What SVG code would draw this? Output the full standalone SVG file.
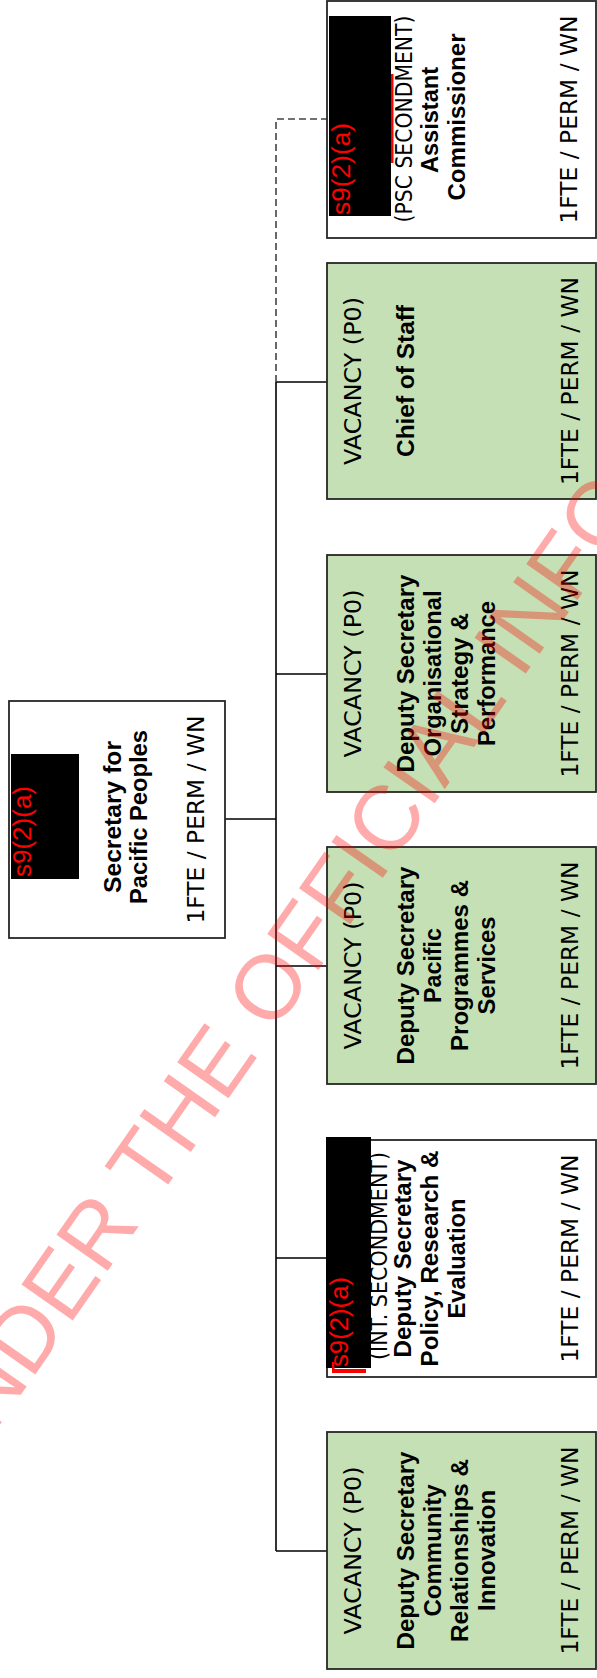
<svg xmlns="http://www.w3.org/2000/svg" width="597" height="1678" viewBox="0 0 597 1678">
<style>
.box{stroke:#262626;stroke-width:1.8}
.g{fill:#c5e0b4}
.w{fill:#ffffff}
.t{font-family:"DejaVu Sans",Verdana,sans-serif;font-size:23px;fill:#000}
.b{font-family:"Liberation Sans",Arial,sans-serif;font-weight:bold;font-size:24px;fill:#000}
.r{font-family:"Liberation Sans",Arial,sans-serif;font-size:25px;fill:#ff0000}
.m{text-anchor:middle}
.ln{stroke:#000;stroke-width:1.6;fill:none}
.dash{stroke:#444;stroke-width:1.6;fill:none;stroke-dasharray:7 4}
.wm{font-family:"Liberation Sans",Arial,sans-serif;font-size:91px;fill:#ff0000;fill-opacity:0.33}
</style>
<rect width="597" height="1678" fill="#ffffff"/>
<g id="connectors">
<path class="ln" d="M225,819 H276"/>
<path class="ln" d="M276,382 V1551"/>
<path class="ln" d="M276,382 H327"/>
<path class="ln" d="M276,674 H327"/>
<path class="ln" d="M276,966 H327"/>
<path class="ln" d="M276,1258 H327"/>
<path class="ln" d="M276,1551 H327"/>
<path class="dash" d="M276,382 V119 H327"/>
</g>
<g id="secretary">
<rect class="box w" x="9" y="701" width="216" height="237"/>
<rect x="11" y="754" width="68" height="125" fill="#000"/>
<text class="r" transform="translate(31,877) rotate(-90)" textLength="91" lengthAdjust="spacingAndGlyphs">s9(2)(a)</text>
<text class="b m" transform="translate(121,817) rotate(-90)" textLength="152" lengthAdjust="spacingAndGlyphs">Secretary for</text>
<text class="b m" transform="translate(147,817) rotate(-90)" textLength="174" lengthAdjust="spacingAndGlyphs">Pacific Peoples</text>
<text class="t m" transform="translate(204,819.5) rotate(-90)" textLength="208" lengthAdjust="spacingAndGlyphs">1FTE / PERM / WN</text>
</g>
<g id="assistant-commissioner">
<rect class="box w" x="327" y="1" width="269" height="237"/>
<rect x="329" y="16" width="62" height="200" fill="#000"/>
<rect x="391" y="74" width="2.5" height="89" fill="#ff0000"/>
<text class="r" transform="translate(350,215) rotate(-90)" textLength="92" lengthAdjust="spacingAndGlyphs">s9(2)(a)</text>
<text class="t m" transform="translate(412,119) rotate(-90)" textLength="207" lengthAdjust="spacingAndGlyphs">(PSC SECONDMENT)</text>
<text class="b m" transform="translate(438,120) rotate(-90)" textLength="106" lengthAdjust="spacingAndGlyphs">Assistant</text>
<text class="b m" transform="translate(465,117) rotate(-90)" textLength="167" lengthAdjust="spacingAndGlyphs">Commissioner</text>
<text class="t m" transform="translate(577,119.5) rotate(-90)" textLength="208" lengthAdjust="spacingAndGlyphs">1FTE / PERM / WN</text>
</g>
<g id="chief-of-staff">
<rect class="box g" x="327" y="263" width="269" height="236"/>
<text class="t m" transform="translate(361,381) rotate(-90)" textLength="168" lengthAdjust="spacingAndGlyphs">VACANCY (P0)</text>
<text class="b m" transform="translate(414,381) rotate(-90)" textLength="152" lengthAdjust="spacingAndGlyphs">Chief of Staff</text>
<text class="t m" transform="translate(578,381) rotate(-90)" textLength="208" lengthAdjust="spacingAndGlyphs">1FTE / PERM / WN</text>
</g>
<g id="ds-organisational-strategy">
<rect class="box g" x="327" y="555" width="269" height="237"/>
<text class="t m" transform="translate(361,673.5) rotate(-90)" textLength="168" lengthAdjust="spacingAndGlyphs">VACANCY (P0)</text>
<text class="b m" transform="translate(414,673.5) rotate(-90)" textLength="198" lengthAdjust="spacingAndGlyphs">Deputy Secretary</text>
<text class="b m" transform="translate(441,673.5) rotate(-90)" textLength="166" lengthAdjust="spacingAndGlyphs">Organisational</text>
<text class="b m" transform="translate(468,673.5) rotate(-90)" textLength="121" lengthAdjust="spacingAndGlyphs">Strategy &amp;</text>
<text class="b m" transform="translate(495,673.5) rotate(-90)" textLength="145" lengthAdjust="spacingAndGlyphs">Performance</text>
<text class="t m" transform="translate(578,673.5) rotate(-90)" textLength="208" lengthAdjust="spacingAndGlyphs">1FTE / PERM / WN</text>
</g>
<g id="ds-pacific-programmes">
<rect class="box g" x="327" y="847" width="269" height="237"/>
<text class="t m" transform="translate(361,965.5) rotate(-90)" textLength="168" lengthAdjust="spacingAndGlyphs">VACANCY (P0)</text>
<text class="b m" transform="translate(414,965.5) rotate(-90)" textLength="198" lengthAdjust="spacingAndGlyphs">Deputy Secretary</text>
<text class="b m" transform="translate(441,965.5) rotate(-90)" textLength="75" lengthAdjust="spacingAndGlyphs">Pacific</text>
<text class="b m" transform="translate(468,965.5) rotate(-90)" textLength="171" lengthAdjust="spacingAndGlyphs">Programmes &amp;</text>
<text class="b m" transform="translate(495,965.5) rotate(-90)" textLength="98" lengthAdjust="spacingAndGlyphs">Services</text>
<text class="t m" transform="translate(578,965.5) rotate(-90)" textLength="208" lengthAdjust="spacingAndGlyphs">1FTE / PERM / WN</text>
</g>
<g id="ds-policy-research">
<rect class="box w" x="327" y="1140" width="269" height="237"/>
<text class="t m" transform="translate(387,1256) rotate(-90)" textLength="208" lengthAdjust="spacingAndGlyphs">(INT. SECONDMENT)</text>
<rect x="326" y="1137" width="45" height="231" fill="#000"/>
<text class="r" transform="translate(348,1367) rotate(-90)" textLength="90" lengthAdjust="spacingAndGlyphs">s9(2)(a)</text>
<rect x="332" y="1369" width="34" height="4" fill="#ff0000"/>
<rect x="332" y="1362" width="2.5" height="11" fill="#ff0000"/>
<text class="b m" transform="translate(411,1258.5) rotate(-90)" textLength="198" lengthAdjust="spacingAndGlyphs">Deputy Secretary</text>
<text class="b m" transform="translate(438,1258.5) rotate(-90)" textLength="216" lengthAdjust="spacingAndGlyphs">Policy, Research &amp;</text>
<text class="b m" transform="translate(465,1258.5) rotate(-90)" textLength="120" lengthAdjust="spacingAndGlyphs">Evaluation</text>
<text class="t m" transform="translate(578,1258.5) rotate(-90)" textLength="208" lengthAdjust="spacingAndGlyphs">1FTE / PERM / WN</text>
</g>
<g id="ds-community-relationships">
<rect class="box g" x="327" y="1432" width="269" height="237"/>
<text class="t m" transform="translate(361,1550.5) rotate(-90)" textLength="168" lengthAdjust="spacingAndGlyphs">VACANCY (P0)</text>
<text class="b m" transform="translate(414,1550.5) rotate(-90)" textLength="198" lengthAdjust="spacingAndGlyphs">Deputy Secretary</text>
<text class="b m" transform="translate(441,1550.5) rotate(-90)" textLength="132" lengthAdjust="spacingAndGlyphs">Community</text>
<text class="b m" transform="translate(468,1550.5) rotate(-90)" textLength="183" lengthAdjust="spacingAndGlyphs">Relationships &amp;</text>
<text class="b m" transform="translate(495,1550.5) rotate(-90)" textLength="121" lengthAdjust="spacingAndGlyphs">Innovation</text>
<text class="t m" transform="translate(578,1550.5) rotate(-90)" textLength="208" lengthAdjust="spacingAndGlyphs">1FTE / PERM / WN</text>
</g>
<text class="wm" transform="translate(-337.5,1906.5) rotate(-55)">RELEASED UNDER THE OFFICIAL INFORMATION ACT</text>
</svg>
